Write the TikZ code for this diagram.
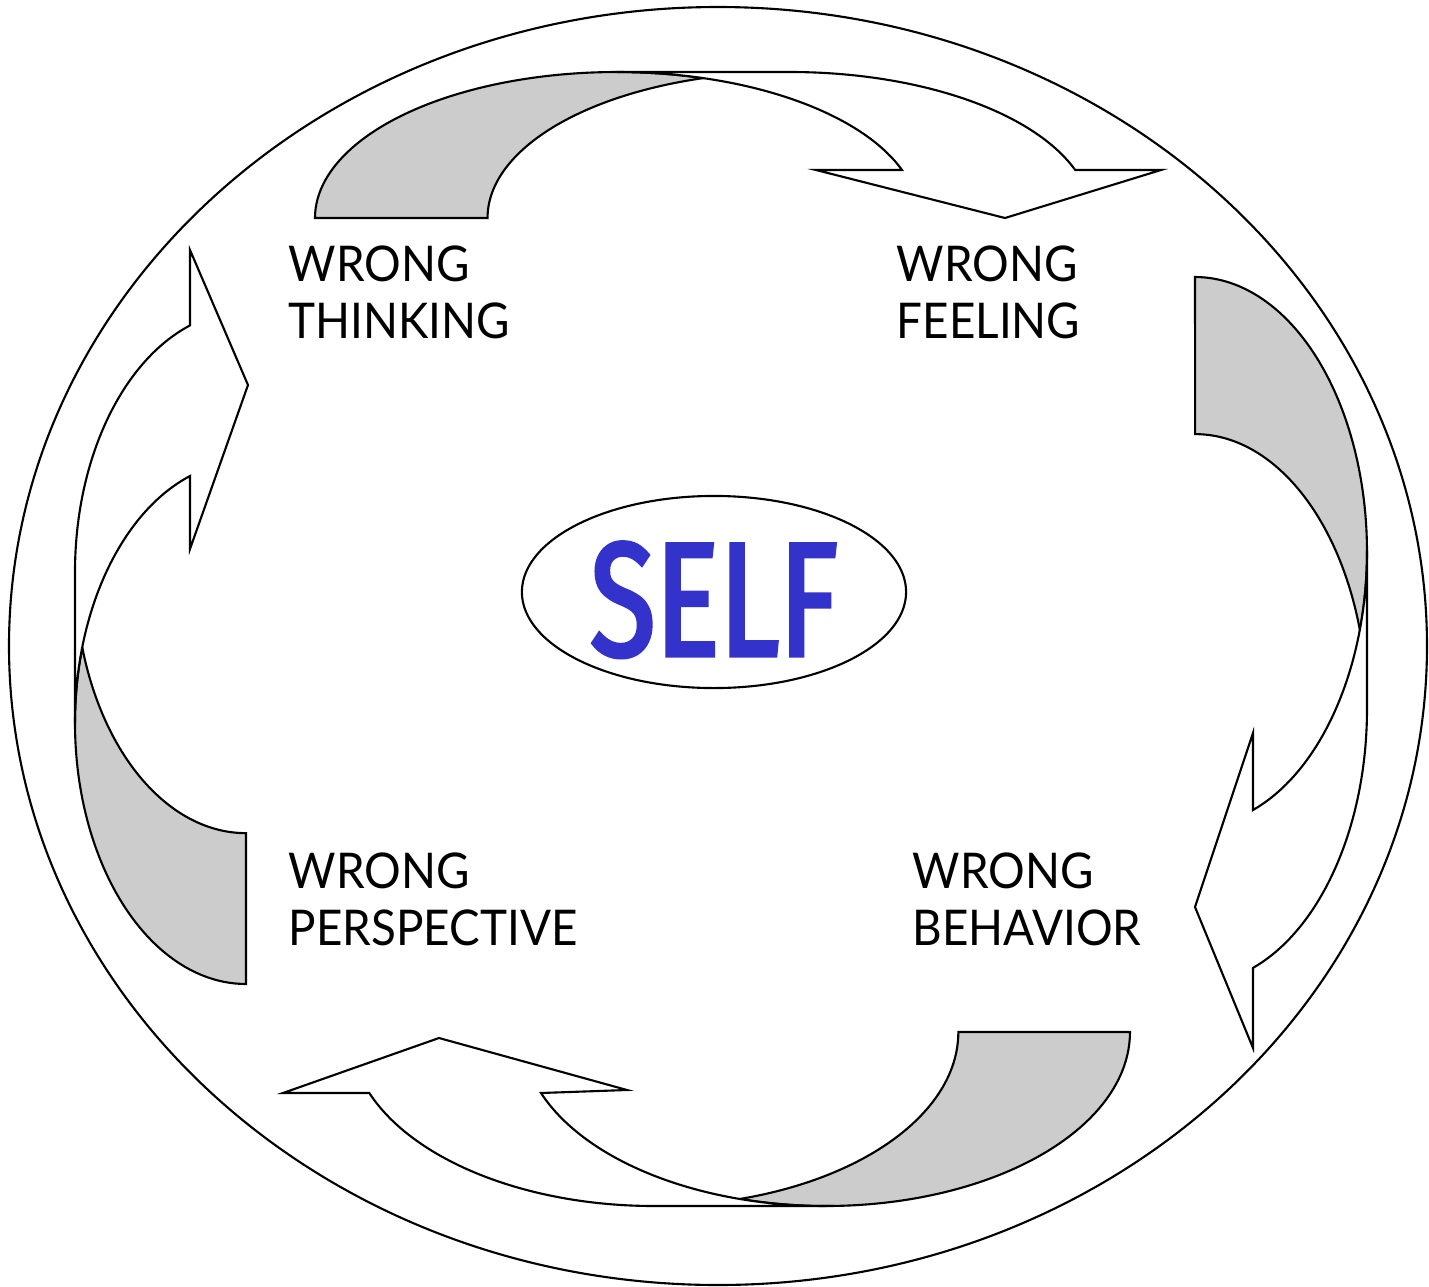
\documentclass[tikz,border=0pt]{standalone}
\usepackage{fontspec}
\setmainfont{Lato}
\newfontfamily\labelfont[FakeStretch=0.93]{Lato}
\newfontfamily\selffont[FakeStretch=0.74,FakeBold=2.5]{Fira Sans}
\usetikzlibrary{shapes.geometric}
\definecolor{bandgray}{HTML}{CCCCCC}
\definecolor{selfblue}{HTML}{3333CC}
\tikzset{
  backband/.style={
    draw=black, fill=bandgray, line width=0.6pt
  },
  frontband/.style={
    draw=black, fill=white, line width=0.6pt
  },
  wronglabel/.style={
    anchor=north west, inner sep=0pt, align=left,
    font=\labelfont\fontsize{14}{16.2}\selectfont
  },
  selfnode/.style={
    ellipse, draw=black, line width=0.6pt,
    minimum width=3.84cm, minimum height=1.92cm, inner sep=0pt,
    text height=1.27cm, text depth=0pt,
    text=selfblue, font=\selffont\fontsize{46}{46}\selectfont
  },
}

\begin{document}
\begin{tikzpicture}[x=0.01cm, y=-0.01cm]
  \useasboundingbox (0,0) rectangle (1429,1287);

  % outer ring
  \draw[line width=0.6pt] (718,646) ellipse [x radius=709, y radius=639];

  % top arrow
  \draw[backband] (315,218)
    arc[start angle=180, end angle=286.6, x radius=302, y radius=146]
    arc[start angle=253.4, end angle=180, x radius=302, y radius=146] -- cycle;
  \draw[frontband] (617,72) -- (790,72)
    arc[start angle=270, end angle=340.8, x radius=302, y radius=146]
    -- (1161,170) -- (1005,218) -- (816,170) -- (902,170)
    arc[start angle=340.8, end angle=270, x radius=302, y radius=146] -- cycle;

  % right arrow
  \draw[backband] (1195,277)
    arc[start angle=270, end angle=376.5, x radius=172, y radius=275]
    arc[start angle=343.3, end angle=270, x radius=172, y radius=275] -- cycle;
  \draw[frontband] (1367,552) -- (1367,709)
    arc[start angle=0, end angle=70.3, x radius=172, y radius=275]
    -- (1253,1048) -- (1195,907) -- (1253,733) -- (1253,810)
    arc[start angle=70.3, end angle=0, x radius=172, y radius=275] -- cycle;

  % bottom arrow
  \draw[backband] (1130,1032)
    arc[start angle=0, end angle=106.4, x radius=304, y radius=174]
    arc[start angle=73.6, end angle=0, x radius=304, y radius=174] -- cycle;
  \draw[frontband] (826,1206) -- (654,1206)
    arc[start angle=90, end angle=159.5, x radius=304, y radius=174]
    -- (283,1093) -- (439,1038) -- (627,1090) -- (541,1093)
    arc[start angle=159.5, end angle=90, x radius=304, y radius=174] -- cycle;

  % left arrow
  \draw[backband] (246,984)
    arc[start angle=90, end angle=196.8, x radius=171, y radius=261]
    arc[start angle=163.2, end angle=90, x radius=171, y radius=261] -- cycle;
  \draw[frontband] (75,723) -- (75,572)
    arc[start angle=180, end angle=250.9, x radius=171, y radius=261]
    -- (190,250) -- (248,385) -- (190,549) -- (190,476)
    arc[start angle=250.9, end angle=180, x radius=171, y radius=261] -- cycle;

  % labels
  \node[wronglabel] (thinking) at (288,245) {WRONG\\THINKING};
  \node[wronglabel] (feeling) at (896,245) {WRONG\\FEELING};
  \node[wronglabel] (perspective) at (288,852) {WRONG\\PERSPECTIVE};
  \node[wronglabel] (behavior) at (912,852) {WRONG\\BEHAVIOR};

  % centre
  \node[selfnode] (self) at (714,592) {SELF};
\end{tikzpicture}
\end{document}
